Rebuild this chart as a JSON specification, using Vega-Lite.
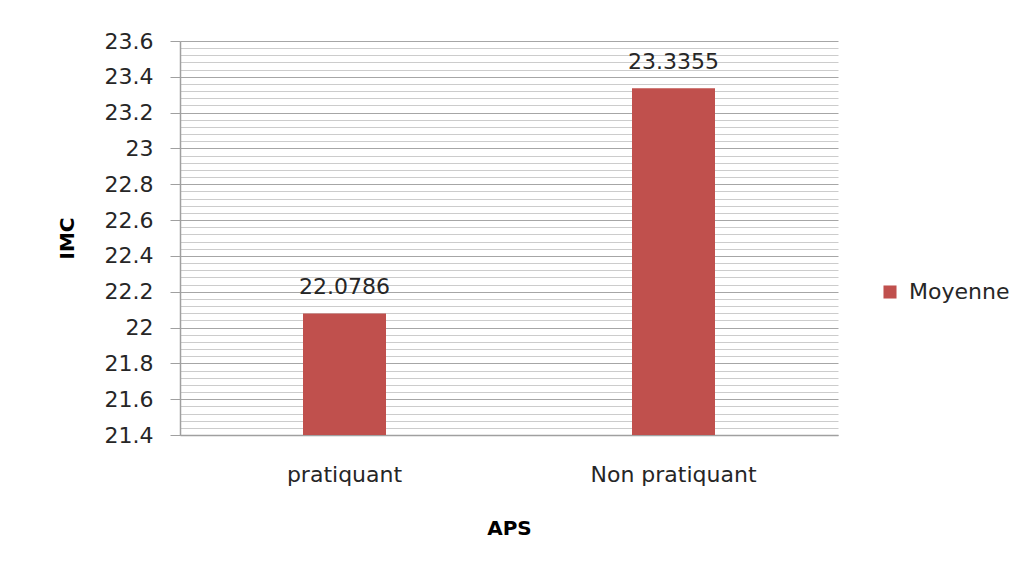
{
  "$schema": "https://vega.github.io/schema/vega-lite/v6.json",
  "width": 658,
  "height": 394,
  "autosize": {"type": "none"},
  "padding": {"left": 180, "top": 41, "right": 194, "bottom": 133},
  "background": "white",
  "config": {
    "view": {"stroke": null},
    "font": "DejaVu Sans",
    "axis": {"labelFont": "DejaVu Sans", "titleFont": "DejaVu Sans", "labelColor": "#262626", "titleColor": "#000000"}
  },
  "data": {
    "values": [
      {"APS": "pratiquant", "IMC": 22.0786, "serie": "Moyenne"},
      {"APS": "Non pratiquant", "IMC": 23.3355, "serie": "Moyenne"}
    ]
  },
  "encoding": {
    "x": {
      "field": "APS",
      "type": "nominal",
      "sort": ["pratiquant", "Non pratiquant"],
      "scale": {"paddingInner": 0, "paddingOuter": 0},
      "axis": {
        "title": "APS",
        "labelAngle": 0,
        "labelFontSize": 22,
        "ticks": false,
        "labelPadding": 29,
        "titleFontSize": 20,
        "titleFontWeight": "bold",
        "titlePadding": 33,
        "domainColor": "#a0a0a0",
        "domainWidth": 1.5,
        "grid": false
      }
    },
    "y": {
      "field": "IMC",
      "type": "quantitative",
      "scale": {"domain": [21.4, 23.6], "zero": false, "nice": false},
      "axis": {
        "title": "IMC",
        "titleFontSize": 20,
        "titleFontWeight": "bold",
        "titlePadding": 27,
        "labelFontSize": 22,
        "labelPadding": 17,
        "format": "~g",
        "values": [21.4,21.44,21.48,21.52,21.56,21.6,21.64,21.68,21.72,21.76,21.8,21.84,21.88,21.92,21.96,22,22.04,22.08,22.12,22.16,22.2,22.24,22.28,22.32,22.36,22.4,22.44,22.48,22.52,22.56,22.6,22.64,22.68,22.72,22.76,22.8,22.84,22.88,22.92,22.96,23,23.04,23.08,23.12,23.16,23.2,23.24,23.28,23.32,23.36,23.4,23.44,23.48,23.52,23.56,23.6],
        "labelExpr": "abs(datum.value*5 - round(datum.value*5)) < 0.01 ? datum.label : ''",
        "tickSize": 10,
        "tickColor": "#a0a0a0",
        "tickOpacity": {"condition": {"test": "abs(datum.value*5 - round(datum.value*5)) < 0.01", "value": 1}, "value": 0},
        "grid": true,
        "gridColor": {"condition": {"test": "abs(datum.value*5 - round(datum.value*5)) < 0.01", "value": "#a6a6a6"}, "value": "#cccccc"},
        "gridWidth": 1,
        "domainColor": "#a0a0a0",
        "domainWidth": 1.5,
        "labelOverlap": false
      }
    }
  },
  "layer": [
    {
      "mark": {"type": "bar", "size": 83},
      "encoding": {
        "y2": {"datum": 21.4},
        "color": {
          "field": "serie",
          "type": "nominal",
          "scale": {"domain": ["Moyenne"], "range": ["#C0504D"]},
          "legend": {
            "title": null,
            "orient": "none",
            "legendX": 699,
            "legendY": 240,
            "symbolType": "square",
            "symbolSize": 170,
            "symbolStrokeWidth": 0,
            "labelFontSize": 22,
            "labelFont": "DejaVu Sans",
            "labelColor": "#262626",
            "labelOffset": 8
          }
        }
      }
    },
    {
      "mark": {"type": "text", "baseline": "alphabetic", "dy": -19, "fontSize": 22, "color": "#262626", "font": "DejaVu Sans"},
      "encoding": {
        "text": {"field": "IMC", "type": "quantitative", "format": ".4f"}
      }
    }
  ]
}
